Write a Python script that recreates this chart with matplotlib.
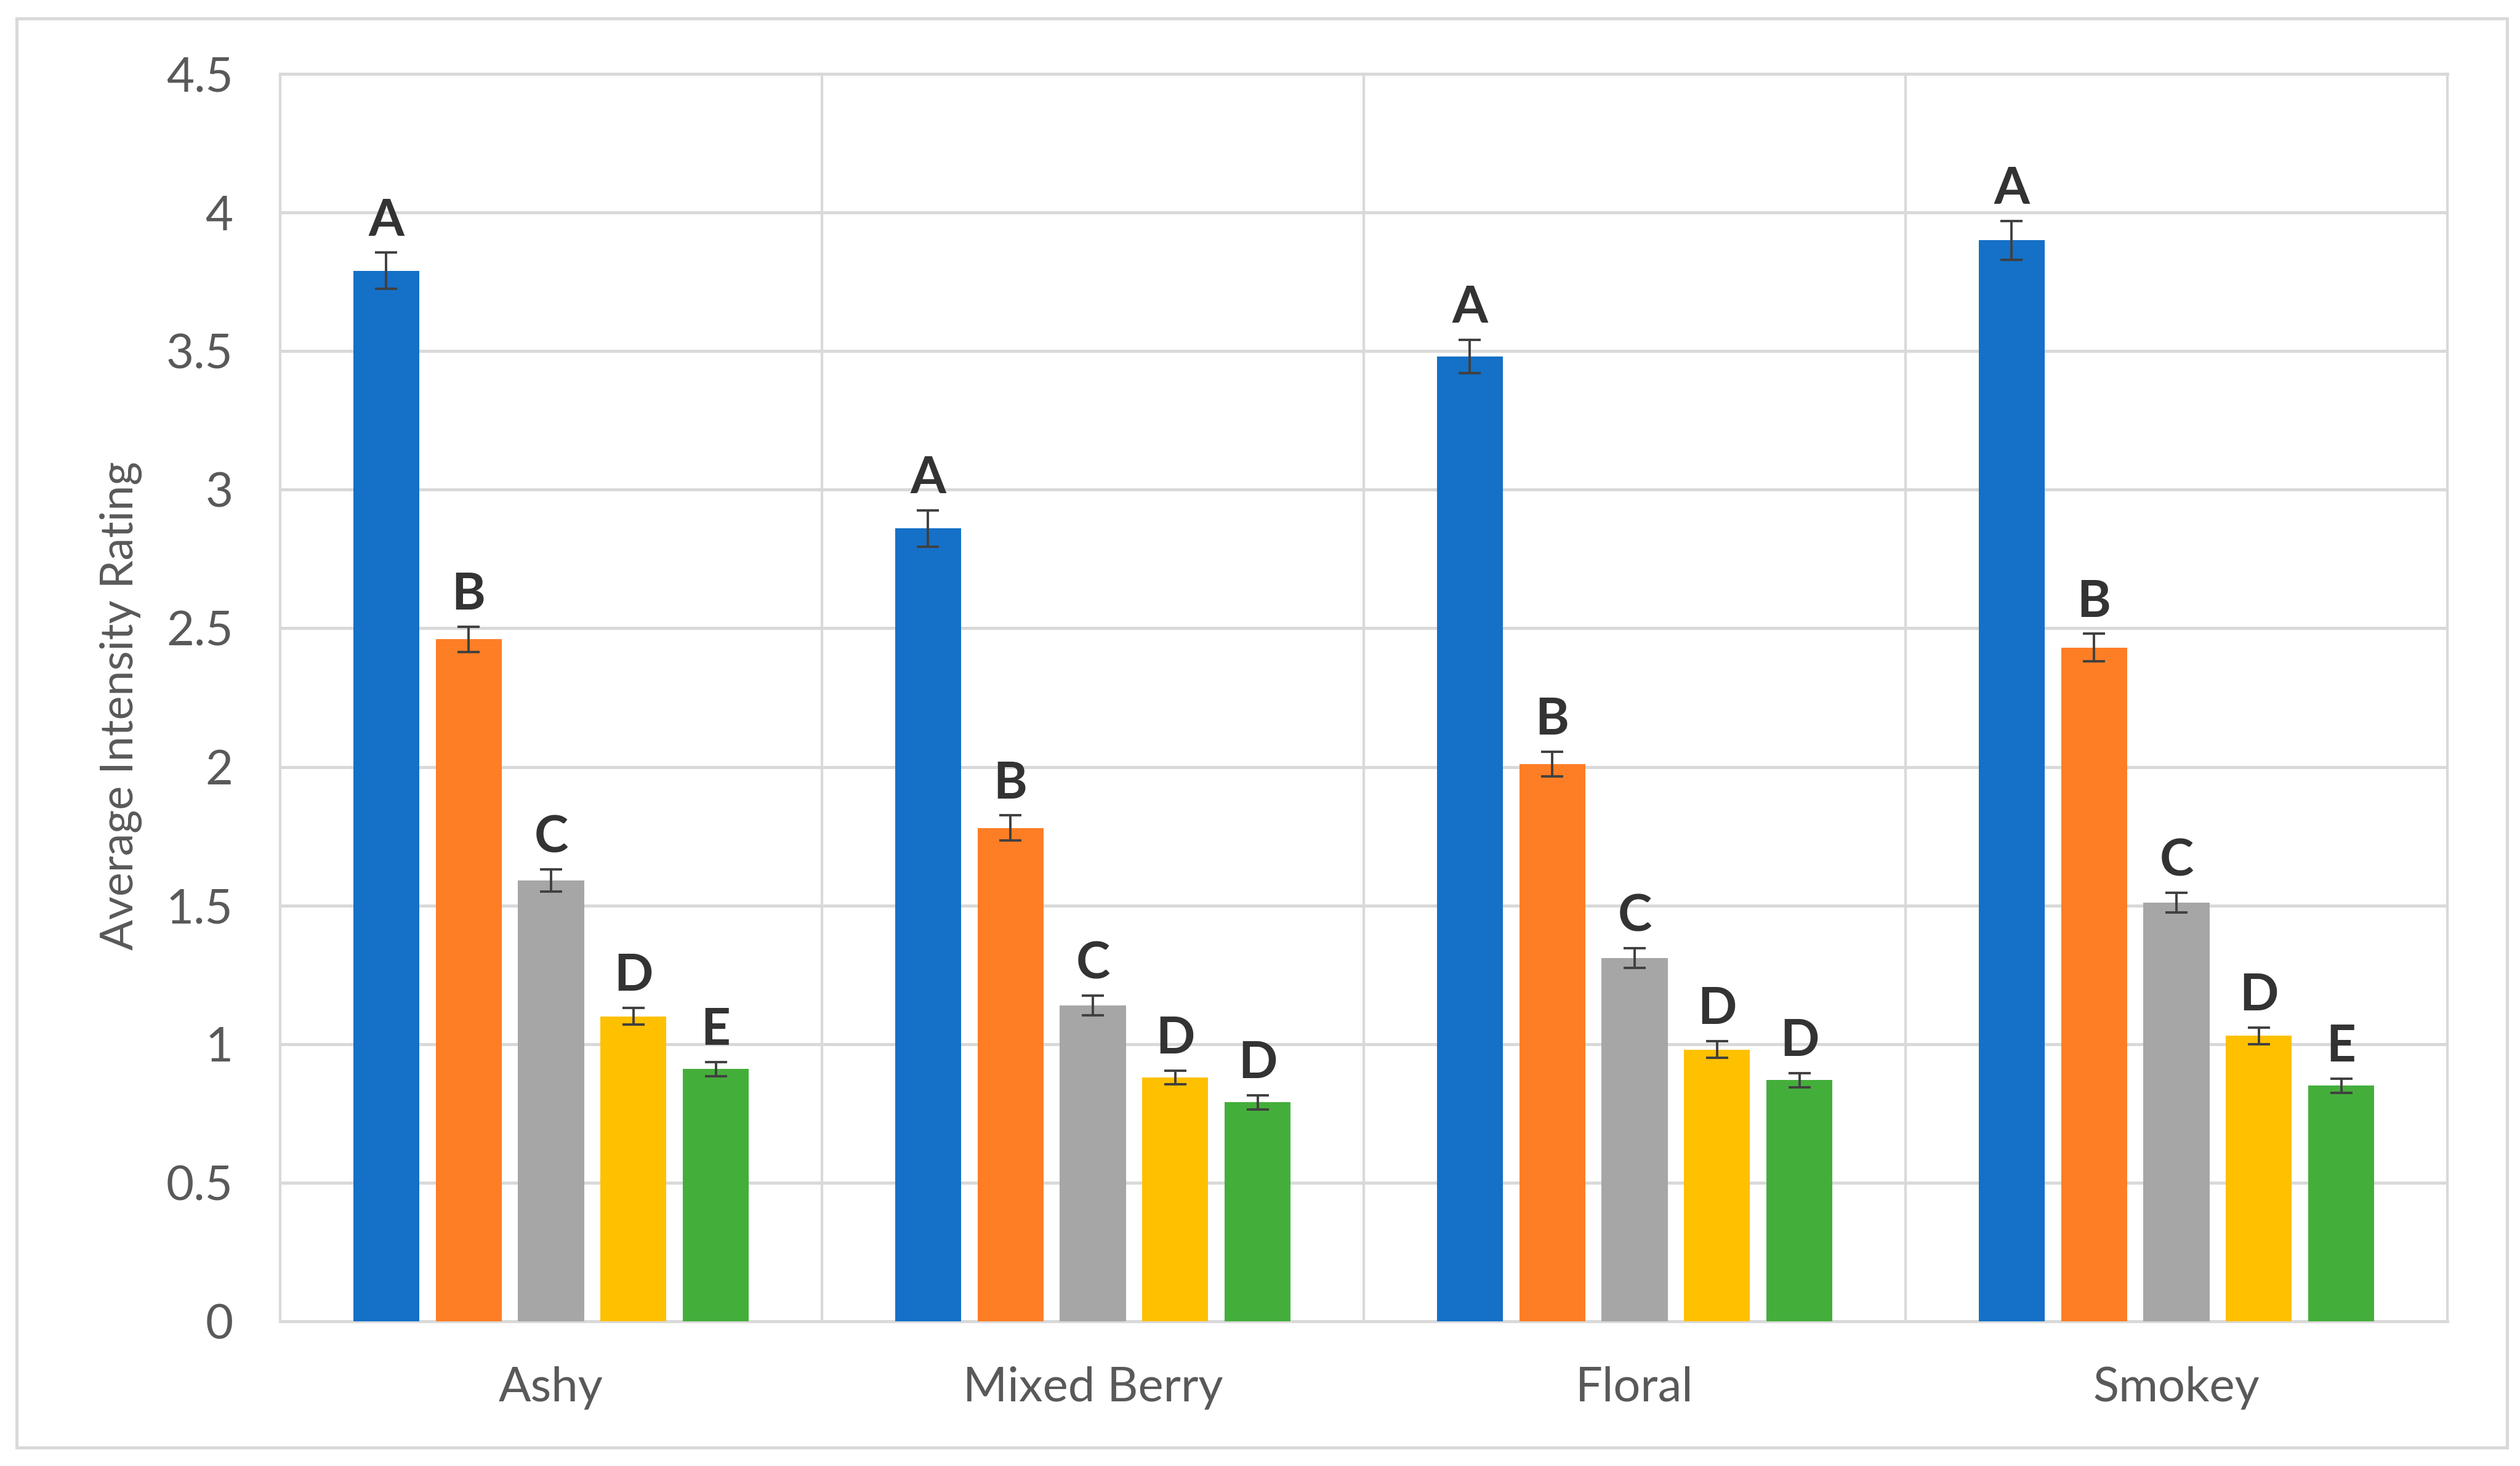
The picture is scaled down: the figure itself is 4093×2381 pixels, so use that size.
import numpy as np
import matplotlib
matplotlib.use("Agg")
import matplotlib.pyplot as plt
from matplotlib.patches import Rectangle

plt.rcParams['font.family'] = ['Lato', 'DejaVu Sans']

categories = ["Ashy", "Mixed Berry", "Floral", "Smokey"]

# one list per sample (5 bars per attribute)
s1 = [3.79, 2.86, 3.48, 3.90]
s2 = [2.46, 1.78, 2.01, 2.43]
s3 = [1.59, 1.14, 1.31, 1.51]
s4 = [1.10, 0.88, 0.98, 1.03]
s5 = [0.91, 0.79, 0.87, 0.85]

e1 = [0.065, 0.065, 0.06, 0.07]
e2 = [0.045, 0.045, 0.045, 0.05]
e3 = [0.04, 0.035, 0.035, 0.035]
e4 = [0.03, 0.025, 0.03, 0.03]
e5 = [0.025, 0.025, 0.025, 0.025]

letters = [["A", "B", "C", "D", "E"],
           ["A", "B", "C", "D", "D"],
           ["A", "B", "C", "D", "D"],
           ["A", "B", "C", "D", "E"]]

colors = ["#1570C7", "#FE7E26", "#A6A6A6", "#FFC000", "#44AE3B"]
grid_c = "#D9D9D9"
text_c = "#595959"

W, H = 4093, 2381
fig = plt.figure(figsize=(W/100, H/100), dpi=100)
ax = fig.add_axes([455/W, 1-2146/H, 3520/W, 2026/H])

x = np.arange(len(categories))
step = 0.152
width = 0.122
vals = [s1, s2, s3, s4, s5]
errs = [e1, e2, e3, e4, e5]

for i in range(5):
    xi = x + (i-2)*step
    ax.bar(xi, vals[i], width, color=colors[i], zorder=3)
    ax.errorbar(xi, vals[i], yerr=errs[i], fmt='none', ecolor="#404040",
                elinewidth=2.8, capsize=13, capthick=2.8, zorder=4)
    for j in range(len(categories)):
        ax.annotate(letters[j][i], (xi[j], vals[i][j]+errs[i][j]),
                    xytext=(0, 20), textcoords='offset points',
                    ha='center', va='baseline', fontsize=60,
                    fontweight='bold', color="#333333", zorder=5)

ax.set_ylim(0, 4.5)
ax.set_xlim(-0.5, 3.5)
ax.set_yticks(np.arange(0, 4.51, 0.5))
ax.set_yticklabels([f"{v:g}" for v in np.arange(0, 4.51, 0.5)])
ax.set_xticks(x)
ax.set_xticklabels(categories)
ax.set_xticks([0.5, 1.5, 2.5], minor=True)
ax.tick_params(axis='both', which='both', length=0, labelsize=56,
               labelcolor=text_c)
ax.tick_params(axis='y', pad=55)
ax.tick_params(axis='x', pad=52)
ax.grid(True, axis='y', color=grid_c, lw=3.6, zorder=0)
ax.grid(True, axis='x', which='minor', color=grid_c, lw=3.0, zorder=0)
ax.grid(False, axis='x', which='major')
for s in ax.spines.values():
    s.set_color(grid_c)
    s.set_linewidth(3.0)
ax.spines['bottom'].set_linewidth(3.6)
ax.spines['top'].set_linewidth(3.6)

fig.text(196/W, 1-1146/H, "Average Intensity Rating", rotation=90,
         ha='center', va='center', fontsize=53, color=text_c)

fig.patches.append(Rectangle((27/W, 30/H), (4072-27)/W, (2351-30)/H,
                             transform=fig.transFigure, fill=False,
                             edgecolor=grid_c, lw=3.6))

fig.savefig("out.png", dpi=100)
